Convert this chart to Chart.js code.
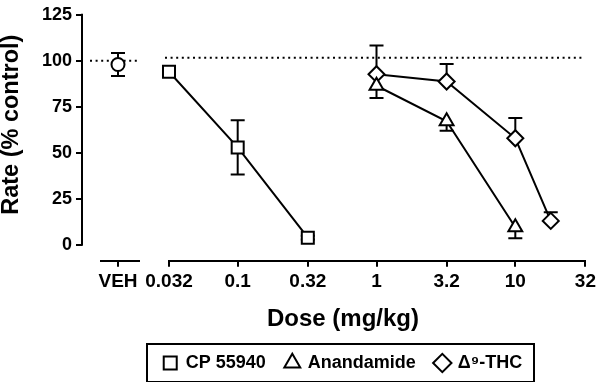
<!DOCTYPE html>
<html><head><meta charset="utf-8">
<script src="https://cdn.jsdelivr.net/npm/chart.js@4"></script>
<style>
html,body{margin:0;padding:0;background:#fff;}
#wrap{position:relative;width:600px;height:382px;}
#wrap canvas{position:absolute;left:0;top:0;}
</style></head><body>
<div id="wrap"><canvas id="main"></canvas><canvas id="veh"></canvas></div>
<script>
// ---- data ----
const vehLabels = ['VEH'];
const vehRate = [98];
const vehSem = [6.3];

const cpDose = [0.032, 0.1, 0.32];
const cpRate = [92.5, 52, 3.7];
const cpSem = [1.5, 14.5, 1];

const anDose = [1, 3.2, 10];
const anRate = [85, 66, 9.3];
const anSem = [6.6, 5.1, 5.9];

const thcDose = [1, 3.2, 10, 18];
const thcRate = [91.2, 87.3, 56.9, 12.7];
const thcSem = [15.4, 9.3, 10.8, 4.6];

const doseTicks = [0.032, 0.1, 0.32, 1, 3.2, 10, 32];
const doseTickLabels = ['0.032', '0.1', '0.32', '1', '3.2', '10', '32'];
const rateTicks = [0, 25, 50, 75, 100, 125];
const controlLevel = 100;

// ---- style ----
Chart.defaults.font.family = "'Liberation Sans', Arial, Helvetica, sans-serif";
Chart.defaults.color = '#000';
const Y_MIN = -8.6, Y_MAX = 125;
const BLACK = '#000';
const align2 = p => Math.round(p - 1) + 1;

const errorBars = {
  id: 'errorBars',
  beforeDatasetsDraw(chart) {
    const ctx = chart.ctx, ys = chart.scales.y;
    ctx.save();
    ctx.strokeStyle = BLACK; ctx.lineWidth = 2; ctx.setLineDash([]);
    chart.data.datasets.forEach((ds, di) => {
      const meta = chart.getDatasetMeta(di);
      meta.data.forEach((pt, i) => {
        const raw = ds.data[i];
        const v = (raw && typeof raw === 'object') ? raw.y : raw;
        const up = ds.errUp ? ds.errUp[i] : 0;
        const dn = ds.errDown ? ds.errDown[i] : 0;
        const yT = ys.getPixelForValue(v + up), yB = ys.getPixelForValue(v - dn);
        ctx.beginPath();
        ctx.moveTo(pt.x, yT); ctx.lineTo(pt.x, yB);
        if (up) { ctx.moveTo(pt.x - 7, yT); ctx.lineTo(pt.x + 7, yT); }
        if (dn) { ctx.moveTo(pt.x - 7, yB); ctx.lineTo(pt.x + 7, yB); }
        ctx.stroke();
      });
    });
    ctx.restore();
  }
};

function dotted(ctx, x0, x1, y) {
  ctx.save();
  ctx.strokeStyle = BLACK; ctx.lineWidth = 2; ctx.setLineDash([2, 3.6]);
  ctx.beginPath(); ctx.moveTo(x0, y); ctx.lineTo(x1, y); ctx.stroke();
  ctx.restore();
}

const mainDecor = {
  id: 'mainDecor',
  beforeDatasetsDraw(chart) {
    const ca = chart.chartArea, ys = chart.scales.y;
    dotted(chart.ctx, ca.left - 4, ca.right - 2, ys.getPixelForValue(controlLevel));
  },
  afterDraw(chart) {
    const lg = chart.legend;
    if (!lg || !lg.legendHitBoxes || !lg.legendHitBoxes.length) return;
    const hb = lg.legendHitBoxes;
    const l = Math.min(...hb.map(h => h.left)) - 17;
    const r = Math.max(...hb.map(h => h.left + h.width)) + 11;
    const cy = hb[0].top + hb[0].height / 2;
    const ctx = chart.ctx;
    ctx.save(); ctx.strokeStyle = BLACK; ctx.lineWidth = 2;
    ctx.strokeRect(Math.round(l), Math.round(cy - 19), Math.round(r - l), 38);
    ctx.restore();
  }
};

const vehDecor = {
  id: 'vehDecor',
  beforeDatasetsDraw(chart) {
    const ctx = chart.ctx, ca = chart.chartArea, ys = chart.scales.y, xs = chart.scales.x;
    const cx = xs.getPixelForValue(0);
    dotted(ctx, cx - 28, cx + 20, ys.getPixelForValue(controlLevel));
    ctx.save();
    ctx.strokeStyle = BLACK; ctx.lineWidth = 2;
    const ax = align2(ca.left);
    ctx.beginPath();
    ctx.moveTo(ax, ys.getPixelForValue(Y_MAX) - 1);
    ctx.lineTo(ax, ys.getPixelForValue(0) + 1);
    const by = align2(ca.bottom);
    ctx.moveTo(cx - 18, by); ctx.lineTo(cx + 22, by);
    ctx.stroke();
    ctx.restore();
  }
};

const common = {
  borderColor: BLACK, borderWidth: 2, fill: false, tension: 0, clip: false,
  pointBackgroundColor: '#fff', pointBorderColor: BLACK, pointBorderWidth: 2,
  backgroundColor: '#fff'
};
const toXY = (xs, ys) => xs.map((x, i) => ({ x: x, y: ys[i] }));

const tickFont = { size: 19, weight: 'bold' };
const gridTicks = { drawOnChartArea: false, drawTicks: true, tickLength: 6, lineWidth: 2, color: BLACK };

const mainChart = new Chart(document.getElementById('main'), {
  type: 'line',
  data: {
    datasets: [
      Object.assign({ label: 'CP 55940', data: toXY(cpDose, cpRate), pointStyle: 'rect', pointRadius: 8.5, errUp: cpSem, errDown: cpSem }, common),
      Object.assign({ label: 'Anandamide', data: toXY(anDose, anRate), pointStyle: 'triangle', pointRadius: 8, errDown: anSem }, common),
      Object.assign({ label: 'Δ⁹-THC', data: toXY(thcDose, thcRate), pointStyle: 'rectRot', pointRadius: 8, errUp: thcSem }, common)
    ]
  },
  options: {
    responsive: true, maintainAspectRatio: false, animation: false,
    layout: { padding: { left: 100, right: 14, top: 11, bottom: 0 } },
    plugins: {
      tooltip: { enabled: false },
      title: {
        display: true, position: 'bottom', text: 'Dose (mg/kg)', weight: 500,
        font: { size: 24, weight: 'bold' }, color: BLACK, padding: { top: 5, bottom: 0 }
      },
      legend: {
        position: 'bottom',
        labels: { usePointStyle: true, boxWidth: 13, boxHeight: 13, padding: 20, font: { size: 18, weight: 'bold' }, color: BLACK }
      }
    },
    scales: {
      x: {
        type: 'logarithmic', min: doseTicks[0], max: doseTicks[doseTicks.length - 1],
        afterBuildTicks: s => { s.ticks = doseTicks.map(v => ({ value: v })); },
        afterFit: s => { s.height = 39.5; },
        ticks: { font: tickFont, color: BLACK, padding: 4, maxRotation: 0, autoSkip: false,
          callback: (v, i) => doseTickLabels[i] },
        grid: gridTicks,
        border: { display: true, color: BLACK, width: 2 }
      },
      y: {
        min: Y_MIN, max: Y_MAX,
        afterFit: s => { s.width = 69; },
        ticks: { display: false },
        grid: { display: false },
        border: { display: false }
      }
    }
  },
  plugins: [errorBars, mainDecor]
});

const mainBottom = mainChart.chartArea.bottom;

const vehChart = new Chart(document.getElementById('veh'), {
  type: 'line',
  data: {
    labels: vehLabels,
    datasets: [Object.assign({ label: 'VEH', data: vehRate, pointStyle: 'circle', pointRadius: 6.5, errUp: vehSem, errDown: vehSem }, common)]
  },
  options: {
    responsive: true, maintainAspectRatio: false, animation: false,
    layout: { padding: { left: 0, right: 446, top: 11, bottom: 0 } },
    plugins: { legend: { display: false }, tooltip: { enabled: false }, title: { display: false } },
    scales: {
      x: {
        type: 'category', offset: true,
        afterFit: s => { s.height = 382 - mainBottom; },
        ticks: { font: tickFont, color: BLACK, padding: 4, maxRotation: 0 },
        grid: Object.assign({ offset: false }, gridTicks),
        border: { display: false }
      },
      y: {
        min: Y_MIN, max: Y_MAX,
        afterBuildTicks: s => { s.ticks = rateTicks.map(v => ({ value: v })); },
        afterFit: s => { s.width = 82; },
        ticks: { font: { size: 18, weight: 'bold' }, color: BLACK, padding: 4 },
        grid: gridTicks,
        border: { display: false },
        title: { display: true, text: '    Rate (% control)', color: BLACK,
          font: { size: 23.5, weight: 'bold', lineHeight: 1 }, padding: { top: 0, bottom: 0 } }
      }
    }
  },
  plugins: [errorBars, vehDecor]
});
</script>
</body></html>
